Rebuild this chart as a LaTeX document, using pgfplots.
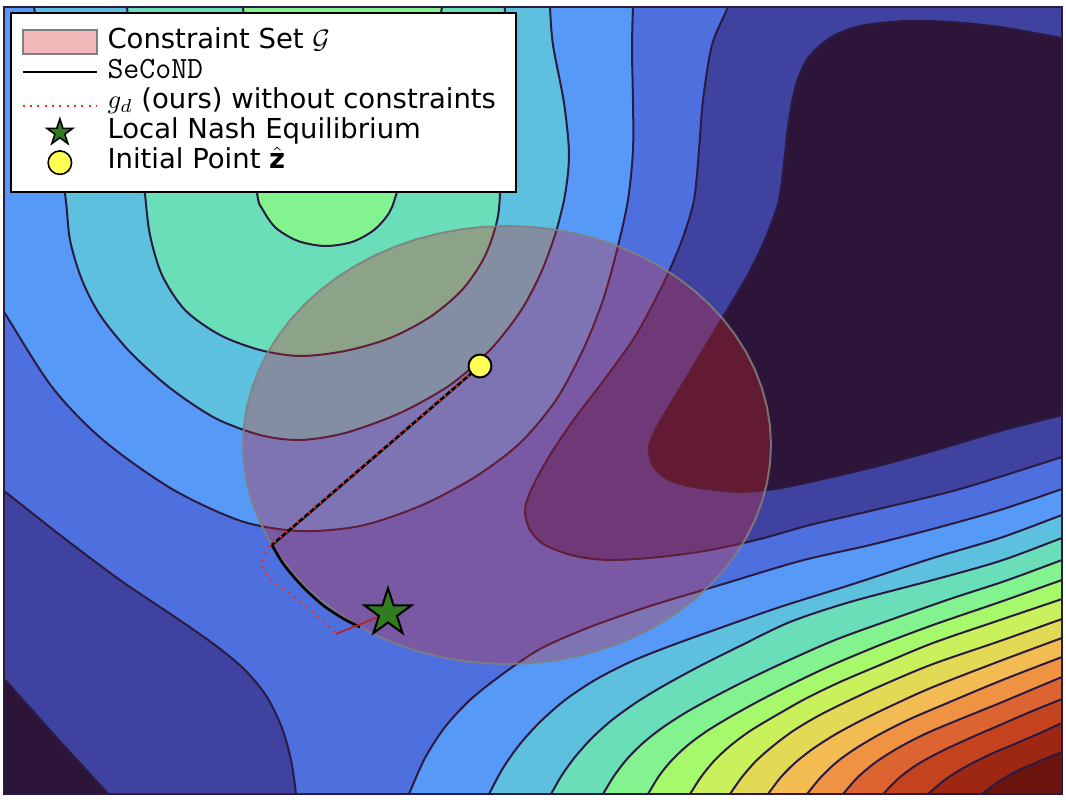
\documentclass[border=0pt]{standalone}
\usepackage{fontspec}
\setmainfont{DejaVu Sans}
\usepackage{pgfplots}
\pgfplotsset{compat=1.18}
\definecolor{b0}{HTML}{2D1539}
\definecolor{b1}{HTML}{3F439F}
\definecolor{b2}{HTML}{4E70DF}
\definecolor{b3}{HTML}{5699F6}
\definecolor{b4}{HTML}{5CC0DE}
\definecolor{b5}{HTML}{69DEB8}
\definecolor{b6}{HTML}{82F38F}
\definecolor{b7}{HTML}{A6F96A}
\definecolor{b8}{HTML}{C9F15B}
\definecolor{b9}{HTML}{E2DA55}
\definecolor{b10}{HTML}{F2BC52}
\definecolor{b11}{HTML}{EF9342}
\definecolor{b12}{HTML}{DC6431}
\definecolor{b13}{HTML}{C3431F}
\definecolor{b14}{HTML}{9E2714}
\definecolor{b15}{HTML}{6B140E}
\definecolor{cline}{HTML}{2B1A42}
\definecolor{tabred}{HTML}{D62728}
\definecolor{dotred}{HTML}{E8301C}
\definecolor{solred}{HTML}{A82A2A}
\definecolor{yel}{HTML}{FFFF55}
\definecolor{starg}{HTML}{2F7D1F}
\pgfdeclareplotmark{fstar}{%
  \pgfpathmoveto{\pgfpointpolar{90}{\pgfplotmarksize}}%
  \pgfpathlineto{\pgfpointpolar{126}{0.382\pgfplotmarksize}}%
  \pgfpathlineto{\pgfpointpolar{162}{\pgfplotmarksize}}%
  \pgfpathlineto{\pgfpointpolar{198}{0.382\pgfplotmarksize}}%
  \pgfpathlineto{\pgfpointpolar{234}{\pgfplotmarksize}}%
  \pgfpathlineto{\pgfpointpolar{270}{0.382\pgfplotmarksize}}%
  \pgfpathlineto{\pgfpointpolar{306}{\pgfplotmarksize}}%
  \pgfpathlineto{\pgfpointpolar{342}{0.382\pgfplotmarksize}}%
  \pgfpathlineto{\pgfpointpolar{18}{\pgfplotmarksize}}%
  \pgfpathlineto{\pgfpointpolar{54}{0.382\pgfplotmarksize}}%
  \pgfpathclose
  \pgfusepathqfillstroke
}
\pgfplotsset{
  band/.style={smooth, fill=#1, draw=cline, line width=0.75pt, forget plot},
}
\begin{document}
\begin{tikzpicture}
\begin{axis}[
  scale only axis, width=396.75pt, height=295.125pt,
  xmin=4, xmax=1062, ymin=7, ymax=794, y dir=reverse,
  xtick=\empty, ytick=\empty,
  axis line style={draw=cline, line width=0.75pt},
  axis background/.style={fill=b2},
  axis on top,
  legend cell align=left,
  legend style={at={(0,1)}, anchor=north west, xshift=2.25pt, yshift=-1.9pt,
    draw=black, line width=0.65pt, fill=white,
    font=\fontsize{10.3}{12.4}\selectfont,
    inner xsep=4pt, inner ysep=5.3pt, row sep=0pt,
    nodes={text height=7.9pt, text depth=3.4pt, inner ysep=0pt, inner xsep=3.5pt}},
]
% ---------- legend ----------
\addlegendimage{legend image code/.code={\draw[fill=tabred, fill opacity=0.32, draw=gray, line width=0.75pt] (0pt,-4.5pt) rectangle (28pt,4.5pt);}}
\addlegendentry{Constraint Set $\mathcal{G}$}
\addlegendimage{legend image code/.code={\draw[black, line width=0.75pt] (0pt,0pt) -- (28pt,0pt);}}
\addlegendentry{{\fontsize{11.6}{12}\selectfont\texttt{SeCoND}}}
\addlegendimage{legend image code/.code={\draw[dotred, dotted, line width=0.75pt] (0pt,-1.5pt) -- (28pt,-1.5pt);}}
\addlegendentry{$g_{d}$ (ours) without constraints}
\addlegendimage{legend image code/.code={\draw[mark=fstar, mark size=5.1pt, fill=starg, draw=black, line width=0.6pt] plot coordinates {(14pt,0pt)};}}
\addlegendentry{Local Nash Equilibrium}
\addlegendimage{legend image code/.code={\draw[mark=*, mark size=4.4pt, fill=yel, draw=black, line width=0.6pt] plot coordinates {(14pt,0pt)};}}
\addlegendentry{Initial Point $\hat{\mathbf{z}}$}

% ---------- contour bands ----------
% band1 bottom-left (below L1)
\addplot[band=b1] coordinates {(-80,426) (-40,459) (4,491) (60,535) (120,580) (175,617) (215,645) (245,670) (267,697) (282,728) (291,760) (296,794) (299,830) (301,880) (-80,880)} -- cycle;
% band1 top-right (beyond L1)
\addplot[band=b1] coordinates {(760,-70) (745,-35) (728,7) (712,45) (703,100) (699,150) (694,200) (682,240) (664,282) (636,335) (604,380) (575,418) (550,455) (532,488) (525,510) (530,530) (545,545) (575,556) (610,560) (660,557) (710,550) (760,539) (810,525) (870,511) (960,489) (1062,457) (1100,445) (1160,426) (1160,-70)} -- cycle;
% band0 bottom-left
\addplot[band=b0] coordinates {(-60,612) (-30,645) (4,679) (57,738) (112,798) (135,823) (160,850) (-60,860)} -- cycle;
% band0 top-right
\addplot[band=b0] coordinates {(1160,55) (1100,44) (1062,38) (1000,27) (950,22) (906,21) (860,26) (830,38) (808,58) (796,85) (789,120) (785,154) (779,200) (766,237) (752,267) (735,297) (718,325) (697,360) (677,393) (658,425) (649,447) (653,466) (667,479) (688,486) (707,489) (740,492) (775,489) (810,482) (870,468) (933,451) (1000,431) (1062,415) (1100,405) (1160,390)} -- cycle;
% band3 top-left (above L2)
\addplot[band=b3] coordinates {(-60,213) (-30,260) (4,312) (52,387) (103,440) (172,489) (241,521) (300,531) (360,526) (420,506) (475,477) (520,443) (556,400) (583,350) (603,300) (617,250) (628,200) (633,150) (633,100) (632,50) (633,7) (635,-30) (638,-70) (-60,-70)} -- cycle;
% band3 bottom-right (above L2)
\addplot[band=b3] coordinates {(377,868) (398,820) (409,794) (425,758) (445,727) (470,700) (500,676) (540,649) (590,627) (650,606) (720,585) (800,561) (870,545) (940,527) (1000,510) (1062,489) (1100,475) (1160,453) (1160,870)} -- cycle;
% band4 top
\addplot[band=b4] coordinates {(24,-70) (29,-25) (34,7) (50,100) (65,194) (70,240) (82,280) (100,315) (130,352) (170,388) (215,418) (260,435) (300,440) (345,433) (400,413) (450,385) (490,350) (520,312) (540,275) (555,235) (565,195) (569,154) (564,103) (553,45) (550,7) (549,-30) (548,-70)} -- cycle;
% band4 bottom-right (above L3)
\addplot[band=b4] coordinates {(450,866) (475,820) (489,794) (503,768) (520,744) (540,722) (565,700) (595,680) (630,662) (670,646) (720,628) (780,607) (850,585) (933,558) (1000,538) (1062,515) (1100,501) (1160,479) (1160,870)} -- cycle;
% band5 top
\addplot[band=b5] coordinates {(120,-70) (124,-25) (127,7) (136,100) (145,194) (150,235) (162,275) (185,310) (220,335) (260,350) (300,356) (345,351) (390,338) (430,317) (462,290) (484,258) (496,225) (500,194) (502,100) (505,7) (506,-25) (507,-70)} -- cycle;
% band5 bottom-right (above L4)
\addplot[band=b5] coordinates {(509,866) (536,820) (551,794) (562,775) (575,757) (592,738) (612,720) (637,702) (665,685) (700,666) (740,646) (790,622) (850,602) (933,580) (1000,561) (1062,538) (1100,524) (1160,502) (1160,870)} -- cycle;
% band6 top
\addplot[band=b6] coordinates {(238,-70) (240,-25) (243,7) (250,100) (257,192) (263,210) (276,228) (298,241) (325,246) (352,242) (374,230) (389,213) (397,192) (425,100) (442,7) (447,-25) (452,-70)} -- cycle;
% band6 bottom-right (above L5)
\addplot[band=b6] coordinates {(559,866) (587,820) (603,794) (614,776) (627,759) (643,743) (662,728) (685,713) (712,698) (745,681) (785,662) (835,640) (890,620) (950,599) (1005,581) (1062,560) (1100,546) (1160,524) (1160,870)} -- cycle;
% band7 (above L6)
\addplot[band=b7] coordinates {(604,866) (632,820) (648,794) (659,776) (672,760) (688,745) (707,731) (730,717) (757,702) (790,685) (830,666) (880,645) (933,625) (1000,602) (1062,580) (1100,567) (1160,546) (1160,870)} -- cycle;
% band8 (above L7)
\addplot[band=b8] coordinates {(643,866) (673,820) (690,794) (701,777) (714,761) (730,746) (750,731) (775,716) (805,699) (840,682) (880,665) (933,643) (1000,620) (1062,599) (1100,586) (1160,565) (1160,870)} -- cycle;
% band9 (above L8)
\addplot[band=b9] coordinates {(680,866) (712,820) (730,794) (742,777) (756,761) (773,746) (793,731) (818,716) (848,701) (885,684) (933,664) (1000,641) (1062,619) (1100,606) (1160,585) (1160,870)} -- cycle;
% band10 (above L9)
\addplot[band=b10] coordinates {(713,866) (748,820) (768,794) (781,777) (796,762) (814,748) (836,734) (862,720) (893,705) (933,687) (1000,661) (1062,638) (1100,625) (1160,604) (1160,870)} -- cycle;
% band11 (above L10)
\addplot[band=b11] coordinates {(747,866) (785,820) (807,794) (821,777) (838,761) (858,747) (882,733) (910,719) (945,704) (1000,681) (1062,657) (1100,643) (1160,621) (1160,870)} -- cycle;
% band12 (above L11)
\addplot[band=b12] coordinates {(780,866) (820,820) (843,794) (858,777) (876,762) (898,748) (925,734) (958,720) (1000,703) (1062,677) (1100,662) (1160,638) (1160,870)} -- cycle;
% band13 (above L12)
\addplot[band=b13] coordinates {(811,866) (857,820) (883,794) (899,778) (918,764) (942,751) (970,738) (1000,725) (1030,712) (1062,699) (1100,684) (1160,660) (1160,870)} -- cycle;
% band14 (above L13)
\addplot[band=b14] coordinates {(842,866) (897,820) (928,794) (946,779) (967,766) (991,754) (1017,743) (1040,733) (1062,723) (1100,706) (1160,680) (1160,870)} -- cycle;
% band15 (above L14)
\addplot[band=b15] coordinates {(886,866) (947,820) (982,794) (998,782) (1017,771) (1040,761) (1062,752) (1100,737) (1160,713) (1160,870)} -- cycle;

% ---------- constraint set (ellipse) ----------
\addplot[forget plot, fill=tabred, fill opacity=0.32, draw=gray, draw opacity=0.85, line width=0.75pt] coordinates {
(771,445) (770,464.1) (767,483) (762,501.7) (755.1,519.9) (746.3,537.6) (735.6,554.5) (723.3,570.6) (709.2,585.8) (693.7,599.9) (676.7,612.8) (658.4,624.4) (639,634.7) (618.6,643.5) (597.3,650.8) (575.3,656.5) (552.8,660.7) (530,663.2) (507,664) (484,663.2) (461.2,660.7) (438.7,656.5) (416.7,650.8) (395.4,643.5) (375,634.7) (355.6,624.4) (337.3,612.8) (320.3,599.9) (304.8,585.8) (290.7,570.6) (278.4,554.5) (267.7,537.6) (258.9,519.9) (252,501.7) (247,483) (244,464.1) (243,445) (244,425.9) (247,407) (252,388.3) (258.9,370.1) (267.7,352.4) (278.4,335.5) (290.7,319.4) (304.8,304.2) (320.3,290.1) (337.3,277.2) (355.6,265.6) (375,255.3) (395.4,246.5) (416.7,239.2) (438.7,233.5) (461.2,229.3) (484,226.8) (507,226) (530,226.8) (552.8,229.3) (575.3,233.5) (597.3,239.2) (618.6,246.5) (639,255.3) (658.4,265.6) (676.7,277.2) (693.7,290.1) (709.2,304.2) (723.3,319.4) (735.6,335.5) (746.3,352.4) (755.1,370.1) (762,388.3) (767,407) (770,425.9)} -- cycle;

% ---------- trajectories ----------
\addplot[forget plot, black, line width=1pt] coordinates {(480,366) (272,545)};
\addplot[forget plot, black, line width=1pt, smooth] coordinates {(272,545) (282,562) (293,576) (306,590) (324,606) (344,619) (360,627)};
\addplot[forget plot, solred, line width=0.7pt] coordinates {(336,634) (388,613)};
\addplot[forget plot, dotred, dotted, line width=0.8pt] coordinates {(480,366) (270,546)};
\addplot[forget plot, dotred, dotted, line width=0.8pt, smooth] coordinates {(270,546) (262,560) (265,572) (275,583) (293,596) (310,610) (324,622) (336,634)};
\addplot[forget plot, only marks, mark=*, mark size=4.3pt, mark options={fill=yel, draw=black, line width=0.75pt}] coordinates {(480,366)};
\addplot[forget plot, only marks, mark=fstar, mark size=9.3pt, mark options={fill=starg, draw=black, line width=0.75pt}] coordinates {(388,613)};
\end{axis}
\path ([shift={(-1.5pt,-2.25pt)}]current axis.south west) rectangle ([shift={(1.5pt,2.625pt)}]current axis.north east);
\end{tikzpicture}
\end{document}
